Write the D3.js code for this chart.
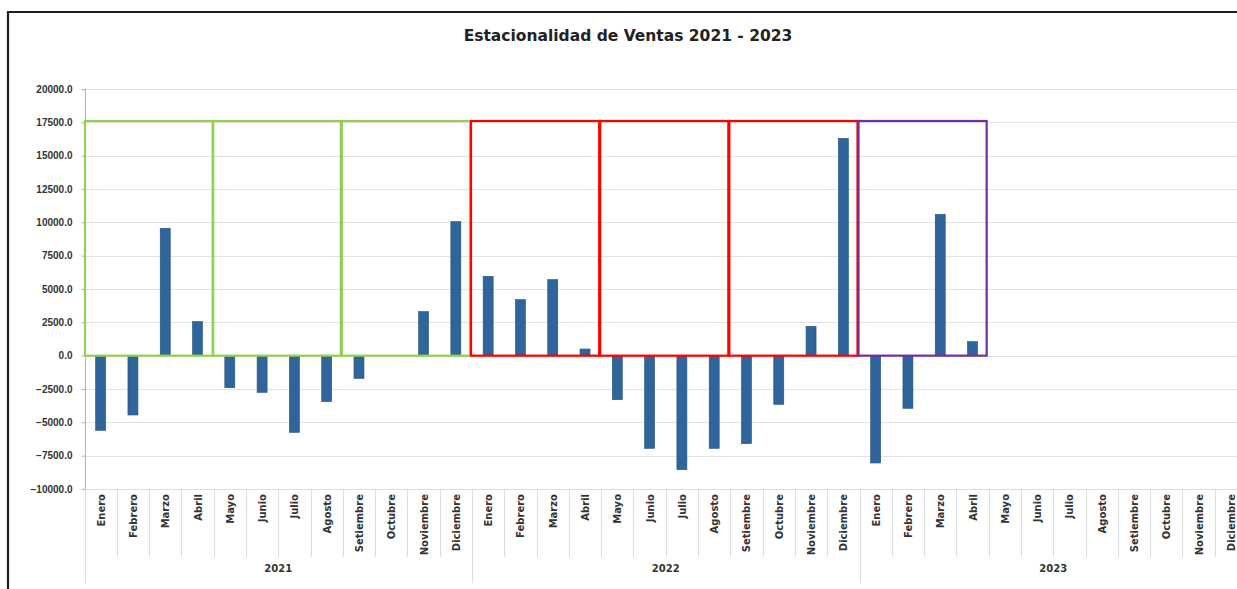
<!DOCTYPE html>
<html lang="es">
<head>
  <meta charset="UTF-8" />
  <title>Estacionalidad de Ventas 2021 - 2023</title>
  <script src="https://d3js.org/d3.v7.min.js"></script>
  <style>
    body { margin: 0; background: #fff; }
    svg { display: block; font-family: "DejaVu Sans", sans-serif; }
    .grid line { stroke: #e3e3e3; stroke-width: 1.2px; }
    .yaxis text { font-size: 10px; font-weight: bold; fill: #333; }
    .yaxis line, .yaxis path { stroke: #9fb6d3; }
    .mlabel { font-size: 10px; font-weight: bold; fill: #333; }
    .ylabel { font-size: 10px; font-weight: bold; fill: #333; }
    .sep { stroke: #dcdcdc; stroke-width: 1px; }
    .bar { fill: #30659b; stroke: #24507d; stroke-width: 0.6px; }
  </style>
</head>
<body>
<svg width="1237" height="589"></svg>
<script>
  // ---- data ----
  const months = ["Enero","Febrero","Marzo","Abril","Mayo","Junio","Julio",
                  "Agosto","Setiembre","Octubre","Noviembre","Diciembre"];
  const years = ["2021", "2022", "2023"];
  const ventas2021 = [-5600, -4450, 9550, 2550, -2400, -2750, -5750, -3450, -1700, 0, 3300, 10050];
  const ventas2022 = [5950, 4200, 5700, 500, -3300, -6950, -8550, -6950, -6600, -3650, 2200, 16300];
  const ventas2023 = [-8050, -3950, 10600, 1050, null, null, null, null, null, null, null, null];
  const yTicks = [-10000, -7500, -5000, -2500, 0, 2500, 5000, 7500, 10000, 12500, 15000, 17500, 20000];

  // quarter boxes (first month index, colour)
  const boxStart = [0, 4, 8, 12, 16, 20, 24];
  const boxColor = ["#92d050", "#92d050", "#92d050", "#ff0000", "#ff0000", "#ff0000", "#7030a0"];
  const boxTop = 17600;

  const values = [...ventas2021, ...ventas2022, ...ventas2023];
  const cats = d3.range(values.length);

  const svg = d3.select("svg");
  const x = d3.scaleBand(cats, [84.5, 1247]);
  const y = d3.scaleLinear([-10000, 20000], [489, 89]);

  // outer frame
  svg.append("path")
    .attr("d", "M8,589V12H1237")
    .attr("fill", "none").attr("stroke", "#1e1e1e").attr("stroke-width", 2.2);

  // title
  svg.append("text")
    .attr("x", 628).attr("y", 41)
    .attr("text-anchor", "middle")
    .style("font-size", "15.5px").style("font-weight", "bold").style("fill", "#222")
    .text("Estacionalidad de Ventas 2021 - 2023");

  // gridlines
  svg.append("g").attr("class", "grid")
    .selectAll("line").data(yTicks).join("line")
    .attr("x1", 85).attr("x2", 1237)
    .attr("y1", d => Math.round(y(d)) + 0.5).attr("y2", d => Math.round(y(d)) + 0.5);

  // y axis
  const yAxis = svg.append("g").attr("class", "yaxis")
    .attr("transform", "translate(85.5,0)")
    .call(d3.axisLeft(y).tickValues(yTicks).tickFormat(d3.format(".1f")).tickSize(4).tickPadding(9));
  yAxis.select(".domain").attr("d", `M0,${y(20000)}V${y(-10000)}`);

  // bars
  const bw = 10;
  svg.append("g").selectAll("rect")
    .data(cats.filter(i => values[i] !== null && values[i] !== 0))
    .join("rect")
    .attr("class", "bar")
    .attr("x", i => x(i) + x.bandwidth() / 2 - bw / 2)
    .attr("width", bw)
    .attr("y", i => y(Math.max(0, values[i])))
    .attr("height", i => Math.abs(y(values[i]) - y(0)));

  // quarter boxes (hand-drawn in the original, slightly narrower than 4 bands)
  svg.append("g").selectAll("rect")
    .data(boxStart)
    .join("rect")
    .attr("x", (s, i) => x(s) + (i === 0 ? 0.5 : -1))
    .attr("width", s => x.bandwidth() * 4 - 1)
    .attr("y", y(boxTop))
    .attr("height", y(0) - y(boxTop))
    .attr("fill", "none")
    .attr("stroke", (s, i) => boxColor[i])
    .attr("stroke-width", 2.2);

  // category axis (bottom)
  const axisY = y(-10000);
  svg.append("line").attr("class", "sep")
    .attr("x1", 85).attr("x2", 1237).attr("y1", axisY + 0.5).attr("y2", axisY + 0.5);

  svg.append("g").selectAll("line")
    .data(d3.range(values.length + 1))
    .join("line")
    .attr("class", "sep")
    .attr("x1", i => Math.round(x.step() * i + x.range()[0]) + 0.5)
    .attr("x2", i => Math.round(x.step() * i + x.range()[0]) + 0.5)
    .attr("y1", axisY)
    .attr("y2", i => i % 12 === 0 ? 583 : 557);

  svg.append("g").selectAll("text")
    .data(cats)
    .join("text")
    .attr("class", "mlabel")
    .attr("text-anchor", "end")
    .attr("transform", i => `translate(${x(i) + x.bandwidth() / 2 + 4},${axisY + 5}) rotate(-90)`)
    .text(i => months[i % 12]);

  svg.append("g").selectAll("text")
    .data(years)
    .join("text")
    .attr("class", "ylabel")
    .attr("text-anchor", "middle")
    .attr("x", (d, i) => x(i * 12) + x.step() * 6)
    .attr("y", 572)
    .text(d => d);
</script>
</body>
</html>
